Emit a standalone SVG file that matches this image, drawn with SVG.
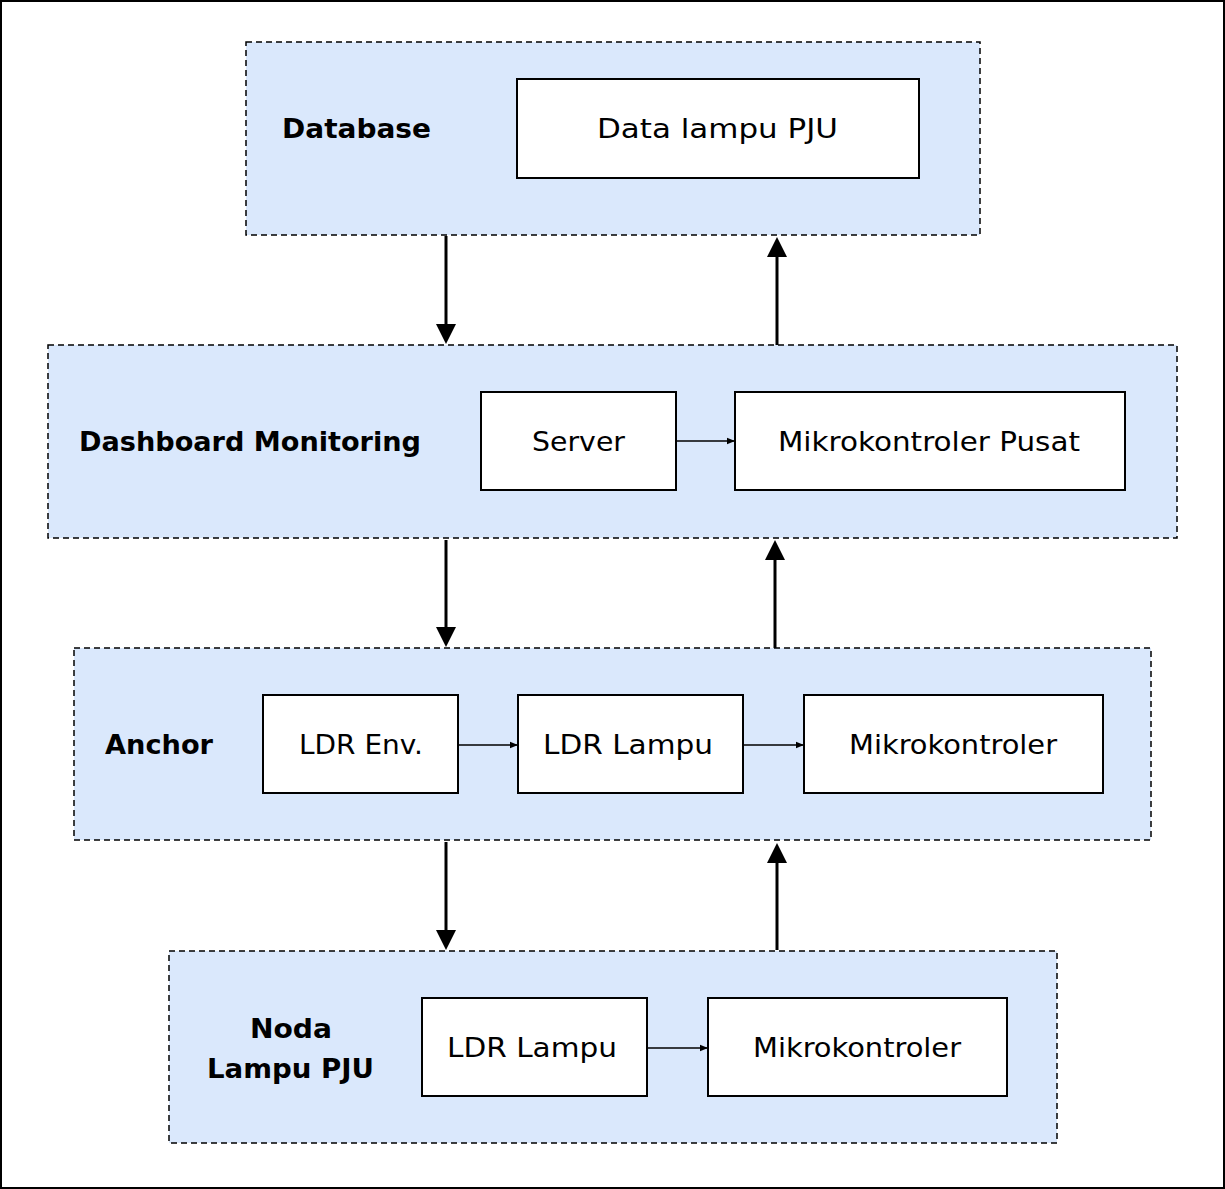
<svg xmlns="http://www.w3.org/2000/svg" width="1225" height="1189" viewBox="0 0 1225 1189">
<defs>
<style>
.grp{fill:#dae8fc;stroke:#000;stroke-width:1.5;stroke-dasharray:6 4}
.box{fill:#fff;stroke:#000;stroke-width:2}
.t{font-family:"DejaVu Sans","Noto Sans",sans-serif;font-size:27px;fill:#000;text-anchor:middle;dominant-baseline:central}
.b{font-family:"DejaVu Sans","Noto Sans",sans-serif;font-size:26px;font-weight:bold;fill:#000;text-anchor:middle;dominant-baseline:central}
.big{stroke:#000;stroke-width:3;fill:none}
.small{stroke:#000;stroke-width:1.5;fill:none}
</style>
<marker id="ahs" viewBox="0 0 10 10" refX="10" refY="5" markerWidth="8" markerHeight="8" markerUnits="userSpaceOnUse" orient="auto"><path d="M0,1L10,5L0,9Z" fill="#000"/></marker>
</defs>
<rect x="1" y="1" width="1223" height="1187" fill="#fff" stroke="#000" stroke-width="2"/>

<g id="database">
<rect class="grp" x="246" y="42" width="734" height="193"/>
<text class="b" x="356.5" y="129" textLength="149" lengthAdjust="spacingAndGlyphs">Database</text>
</g>
<g id="data-lampu">
<rect class="box" x="517" y="79" width="402" height="99"/>
<text class="t" x="717.5" y="128" textLength="241" lengthAdjust="spacingAndGlyphs">Data lampu PJU</text>
</g>

<g id="dashboard">
<rect class="grp" x="48" y="345" width="1129" height="193"/>
<text class="b" x="250" y="442" textLength="342" lengthAdjust="spacingAndGlyphs">Dashboard Monitoring</text>
</g>
<g id="server">
<rect class="box" x="481" y="392" width="195" height="98"/>
<text class="t" x="578.5" y="441" textLength="93" lengthAdjust="spacingAndGlyphs">Server</text>
</g>
<g id="mk-pusat">
<rect class="box" x="735" y="392" width="390" height="98"/>
<text class="t" x="929" y="441" textLength="302" lengthAdjust="spacingAndGlyphs">Mikrokontroler Pusat</text>
</g>

<g id="anchor">
<rect class="grp" x="74" y="648" width="1077" height="192"/>
<text class="b" x="159" y="745" textLength="108" lengthAdjust="spacingAndGlyphs">Anchor</text>
</g>
<g id="ldr-env">
<rect class="box" x="263" y="695" width="195" height="98"/>
<text class="t" x="361" y="744" textLength="124" lengthAdjust="spacingAndGlyphs">LDR Env.</text>
</g>
<g id="ldr-lampu-a">
<rect class="box" x="518" y="695" width="225" height="98"/>
<text class="t" x="628" y="744" textLength="170" lengthAdjust="spacingAndGlyphs">LDR Lampu</text>
</g>
<g id="mk-a">
<rect class="box" x="804" y="695" width="299" height="98"/>
<text class="t" x="953" y="744" textLength="208" lengthAdjust="spacingAndGlyphs">Mikrokontroler</text>
</g>

<g id="noda">
<rect class="grp" x="169" y="951" width="888" height="192"/>
<text class="b" x="291" y="1029" textLength="82" lengthAdjust="spacingAndGlyphs">Noda</text>
<text class="b" x="290.5" y="1069" textLength="167" lengthAdjust="spacingAndGlyphs">Lampu PJU</text>
</g>
<g id="ldr-lampu-n">
<rect class="box" x="422" y="998" width="225" height="98"/>
<text class="t" x="532" y="1047" textLength="170" lengthAdjust="spacingAndGlyphs">LDR Lampu</text>
</g>
<g id="mk-n">
<rect class="box" x="708" y="998" width="299" height="98"/>
<text class="t" x="857" y="1047" textLength="208" lengthAdjust="spacingAndGlyphs">Mikrokontroler</text>
</g>

<g id="connectors">
<line class="big" x1="446" y1="236" x2="446" y2="325"/><path d="M436,324L456,324L446,344Z"/>
<line class="big" x1="777" y1="345" x2="777" y2="256"/><path d="M767,257L787,257L777,237Z"/>
<line class="big" x1="446" y1="540" x2="446" y2="628"/><path d="M436,627L456,627L446,647Z"/>
<line class="big" x1="775" y1="648" x2="775" y2="560"/><path d="M765,560L785,560L775,540Z"/>
<line class="big" x1="446" y1="842" x2="446" y2="931"/><path d="M436,930L456,930L446,950Z"/>
<line class="big" x1="777" y1="950" x2="777" y2="862"/><path d="M767,863L787,863L777,843Z"/>
<line class="small" x1="676" y1="441" x2="735" y2="441" marker-end="url(#ahs)"/>
<line class="small" x1="458" y1="745" x2="518" y2="745" marker-end="url(#ahs)"/>
<line class="small" x1="743" y1="745" x2="804" y2="745" marker-end="url(#ahs)"/>
<line class="small" x1="647" y1="1048" x2="708" y2="1048" marker-end="url(#ahs)"/>
</g>
</svg>
